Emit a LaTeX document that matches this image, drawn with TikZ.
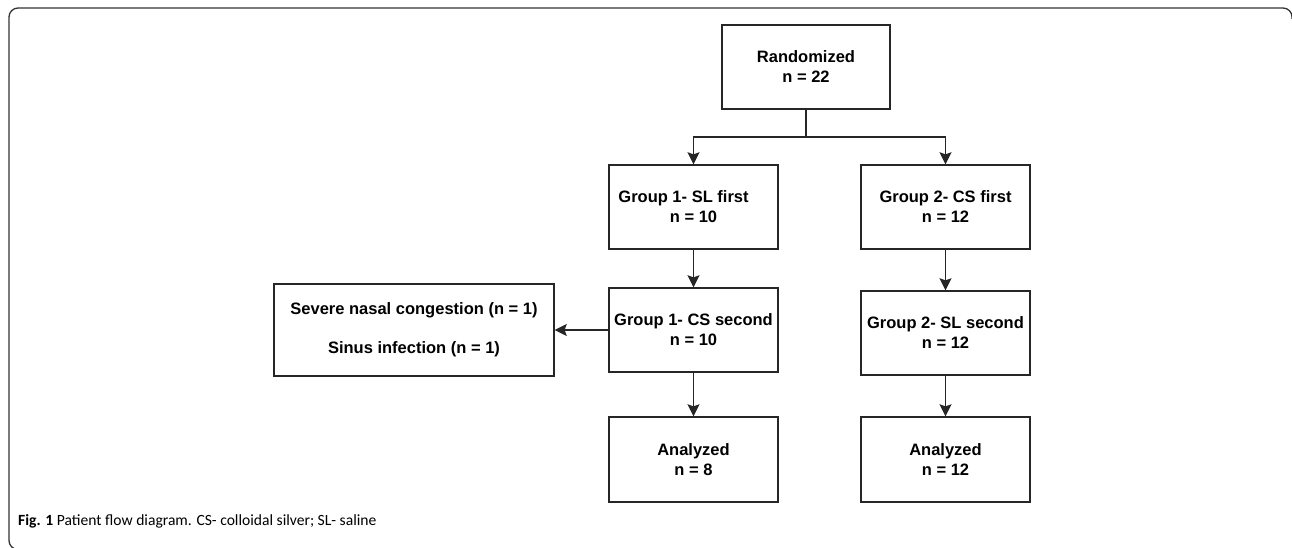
\documentclass[tikz,border=0pt]{standalone}
\usepackage{fontspec}
\setmainfont{Liberation Sans}
\newfontfamily\capfont{Carlito}
\usetikzlibrary{arrows.meta}
\begin{document}
\begin{tikzpicture}[x=1pt,y=-1pt,
  box/.style={draw=black!85,line width=1.4pt,minimum width=169pt,minimum height=84pt,inner sep=0pt,align=center,
    font=\fontsize{16.5}{20}\selectfont\bfseries},
  arr/.style={draw=black!85,line width=1.4pt,-{Stealth[length=12pt,width=12pt,inset=2pt]}},
  conn/.style={draw=black!85,line width=1.4pt}]
\useasboundingbox (0,0) rectangle (1292,548);
% frame
\draw[line width=1.3pt,black!80,rounded corners=9pt] (60,549.5) -- (9,549.5) -- (9,8) -- (1292,8) -- (1292,19);
% nodes
\node[box,minimum width=168pt] (rand) at (806,67) {Randomized\\n = 22};
\node[box] (g1a) at (693.5,207) {Group 1- SL first\hspace*{20pt}\\n = 10};
\node[box] (g2a) at (945.5,207) {Group 2- CS first\\n = 12};
\node[box] (g1b) at (693.5,330) {Group 1- CS second\\n = 10};
\node[box] (g2b) at (945.5,333) {Group 2- SL second\\n = 12};
\node[box,minimum height=85pt] (an1) at (693.5,459.5) {Analyzed\\n = 8};
\node[box,minimum height=85pt] (an2) at (945.5,459.5) {Analyzed\\n = 12};
\node[box,minimum width=280pt,minimum height=92pt] (side) at (414,330) {Severe nasal congestion (n = 1)\\[19pt]Sinus infection (n = 1)};
\coordinate (split) at (806,137);
% connectors
\draw[conn] (rand.south) -- (split);
\draw[arr] (split) -| (g1a.north);
\draw[arr] (split) -| (g2a.north);
\draw[arr] (g1a) -- (g1b);
\draw[arr] (g2a) -- (g2b);
\draw[arr] (g1b) -- (an1);
\draw[arr] (g2b) -- (an2);
\draw[arr] (g1b) -- (side);
% caption
\node[anchor=west,inner sep=0pt,font=\capfont\fontsize{15.6}{17}\selectfont] (cap) at (18,521) {\textbf{Fig. 1} Patient flow diagram. CS- colloidal silver; SL- saline};
\end{tikzpicture}
\end{document}
